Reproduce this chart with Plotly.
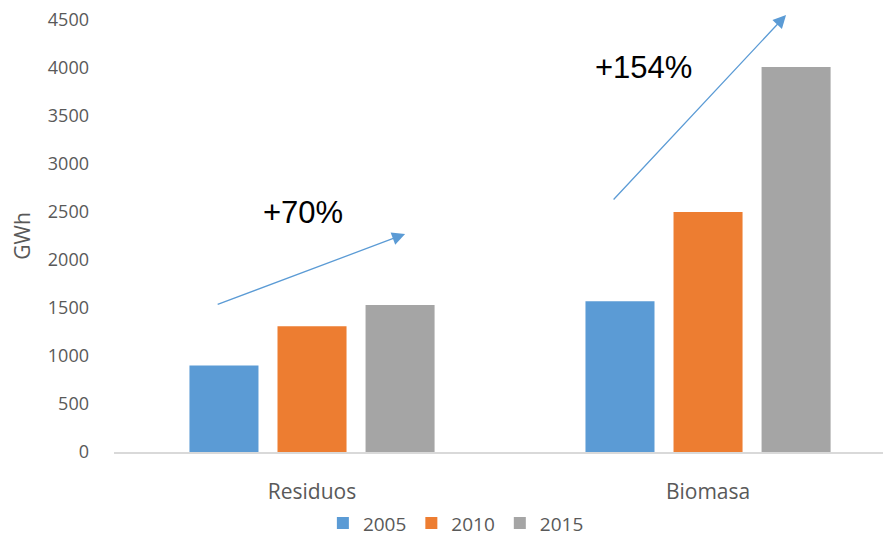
import plotly.graph_objects as go

categories = ['Residuos', 'Biomasa']
years = ['2005', '2010', '2015']
values = {
    '2005': [900, 1570],
    '2010': [1310, 2500],
    '2015': [1530, 4010],
}
colors = {'2005': '#5B9BD5', '2010': '#ED7D31', '2015': '#A5A5A5'}

# growth labels and arrows (tail -> head, in axis units)
growth_text = ['+70%', '+154%']
growth_text_pos = [(-0.022, 2500), (0.836, 4010)]
arrow_tail = [(-0.242, 1531), (0.758, 2615)]
arrow_head = [(0.235, 2271), (1.197, 4552)]

fig = go.Figure()
for yr in years:
    fig.add_trace(go.Bar(
        x=categories,
        y=values[yr],
        name=yr,
        marker=dict(color=colors[yr], line=dict(width=0)),
    ))

annotations = []
for txt, (tx, ty) in zip(growth_text, growth_text_pos):
    annotations.append(dict(
        x=tx, y=ty, xref='x', yref='y', text=txt, showarrow=False,
        font=dict(family='Liberation Sans, Arial', size=31, color='#000000'),
    ))
for (x0, y0), (x1, y1) in zip(arrow_tail, arrow_head):
    annotations.append(dict(
        x=x1, y=y1, ax=x0, ay=y0, xref='x', yref='y', axref='x', ayref='y',
        text='', showarrow=True, arrowhead=2, arrowsize=2, arrowwidth=1.3,
        arrowcolor='#5B9BD5',
    ))

# page body has an 8px margin, so the figure is sized to fit the window
fig.update_layout(
    width=883,
    height=529,
    margin=dict(l=106, r=0, t=12, b=85),
    paper_bgcolor='white',
    plot_bgcolor='white',
    barmode='group',
    bargap=0.333,
    bargroupgap=0.216,
    font=dict(family='Open Sans, DejaVu Sans', size=18, color='#595959'),
    legend=dict(
        orientation='h', x=0.44, xanchor='center',
        yref='container', y=0.026, yanchor='middle',
        font=dict(size=19, color='#595959'), traceorder='normal',
        itemwidth=30,
    ),
    annotations=annotations,
    xaxis=dict(
        range=[-0.5, 1.462], automargin=False,
        showline=True, linecolor='#D9D9D9', linewidth=1.5,
        showgrid=False, ticks='', ticklabelstandoff=20,
        tickfont=dict(size=21),
    ),
    yaxis=dict(
        range=[0, 4500], dtick=500, automargin=False,
        showgrid=False, zeroline=False, showline=False, ticks='',
        ticklabelstandoff=24, ticklabeloverflow='allow',
        title=dict(text='GWh', standoff=28, font=dict(size=21, color='#595959')),
    ),
)

fig.write_html('out.html')
